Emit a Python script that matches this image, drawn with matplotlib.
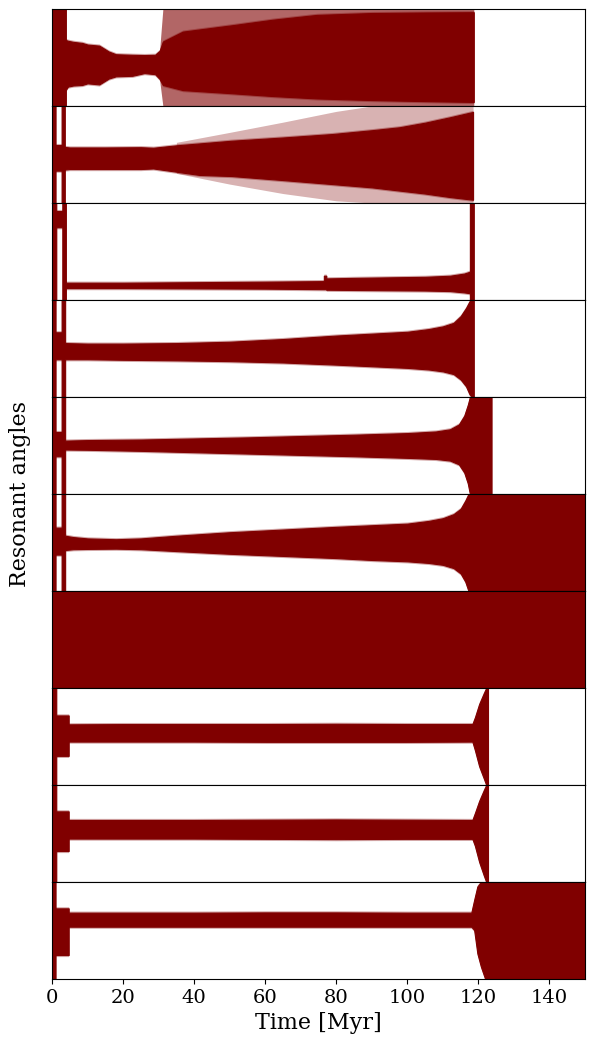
import matplotlib
matplotlib.use("Agg")
import matplotlib.pyplot as plt
import numpy as np

plt.rcParams['font.family'] = ['DejaVu Serif']

COLOR = '#800000'
x_ticks = [0, 20, 40, 60, 80, 100, 120, 140]
x_label = 'Time [Myr]'
y_label = 'Resonant angles'

# ---- envelopes of the dense point clouds (angle in degrees, 0..360) ----
p1_t  = [0, 3.9, 3.9, 4.5, 6, 8.5, 10, 13.3, 16, 18, 22.6, 26, 29, 30.3, 31.2, 36.8, 50.9, 62, 74.5, 90, 105, 118.7]
p1_hi = [360, 360, 245, 242, 238, 234, 228, 224, 202, 192, 190, 189, 190, 205, 239, 276, 300, 320, 338, 345, 347, 348]
p1_lo = [0, 0, 60, 72, 76, 78, 84, 80, 102, 110, 112, 122, 118, 100, 78, 59, 47, 37, 28, 22, 18, 15]
p1s_t  = [30.3, 31.2, 118.7]
p1s_hi = [210, 360, 360]
p1s_lo = [95, 0, 0]

p2_t  = [0, 1.0, 1.0, 2.7, 2.7, 3.6, 3.6, 5, 15, 25, 28.5, 35, 41.5, 50.5, 65, 79, 90, 97.8, 105, 112, 118.5]
p2_hi = [360, 360, 215, 215, 360, 360, 208, 206, 206, 207, 205, 214, 221, 231, 243, 256, 270, 281, 298, 318, 338]
p2_lo = [0, 0, 120, 120, 0, 0, 124, 126, 126, 126, 128, 116, 104, 100, 85, 70, 58, 46, 35, 22, 12]
p2s_t  = [35, 50, 65, 80, 90, 118.5]
p2s_hi = [225, 262, 300, 340, 360, 360]
p2s_lo = [110, 70, 35, 8, 0, 0]

p3_t  = [0, 1.2, 1.2, 2.9, 2.9, 3.9, 3.9, 20, 40, 60, 76.5, 76.5, 77.2, 77.2, 85, 95, 105, 112, 116, 117.6, 117.6, 118.7]
p3_hi = [360, 360, 330, 330, 360, 360, 64, 64, 66, 68, 70, 90, 90, 80, 82, 84, 86, 90, 98, 105, 360, 360]
p3_lo = [0, 0, 270, 270, 0, 0, 44, 44, 43, 42, 40, 40, 40, 38, 37, 36, 35, 33, 28, 25, 0, 0]

p4_t  = [0, 1.0, 1.0, 2.7, 2.7, 3.7, 3.7, 10, 20, 35, 50, 65, 80, 90, 100, 106, 110, 113, 115, 116.5, 117.5, 118.2, 118.7]
p4_hi = [360, 360, 240, 240, 360, 360, 200, 198, 198, 200, 205, 215, 228, 235, 242, 252, 262, 275, 300, 330, 355, 360, 360]
p4_lo = [0, 0, 140, 140, 0, 0, 140, 140, 138, 136, 133, 128, 120, 114, 108, 102, 95, 85, 65, 40, 10, 0, 0]

p5_t  = [0, 1.0, 1.0, 2.7, 2.7, 3.7, 3.7, 10, 25, 40, 55, 70, 85, 100, 108, 112, 114.5, 116, 117, 117.6, 117.6, 123.7]
p5_hi = [360, 360, 230, 230, 360, 360, 198, 200, 202, 206, 210, 215, 220, 226, 232, 240, 258, 290, 330, 360, 360, 360]
p5_lo = [0, 0, 140, 140, 0, 0, 165, 164, 160, 155, 150, 145, 140, 134, 130, 124, 110, 80, 40, 0, 0, 0]

p6_t  = [0, 1.0, 1.0, 2.7, 2.7, 3.7, 3.7, 6, 10, 18, 25, 35, 50, 65, 80, 90, 100, 106, 110, 113, 115, 116.3, 117.2, 150]
p6_hi = [360, 360, 235, 235, 360, 360, 205, 200, 195, 192, 195, 205, 218, 228, 238, 244, 250, 260, 270, 285, 305, 335, 360, 360]
p6_lo = [0, 0, 135, 135, 0, 0, 152, 155, 156, 157, 155, 148, 138, 130, 122, 115, 110, 104, 97, 85, 65, 35, 0, 0]

p7_t  = [0, 150]
p7_hi = [360, 360]
p7_lo = [0, 0]

p8_t  = [0, 1.2, 1.2, 4.7, 4.7, 20, 40, 60, 80, 100, 118.3, 119, 120.2, 121.5, 122.2, 122.7]
p8_hi = [360, 360, 258, 258, 225, 226, 226, 226, 227, 226, 226, 250, 300, 340, 360, 360]
p8_lo = [0, 0, 108, 108, 161, 161, 161, 160, 160, 160, 161, 130, 70, 25, 0, 0]

p9_t  = [0, 1.2, 1.2, 4.7, 4.7, 20, 40, 60, 80, 100, 118.3, 119, 120.2, 121.5, 122.2, 122.7]
p9_hi = [360, 360, 262, 262, 230, 230, 230, 231, 232, 231, 230, 255, 300, 340, 360, 360]
p9_lo = [0, 0, 115, 115, 161, 161, 161, 160, 159, 160, 160, 135, 75, 25, 0, 0]

p10_t  = [0, 1.0, 1.0, 4.7, 4.7, 20, 40, 60, 80, 100, 118, 118.8, 119.7, 120.7, 121.9, 150]
p10_hi = [360, 360, 262, 262, 246, 246, 246, 247, 247, 246, 246, 293, 343, 360, 360, 360]
p10_lo = [0, 0, 89, 89, 194, 194, 194, 194, 194, 194, 194, 182, 95, 46, 0, 0]

dense = [(p1_t, p1_lo, p1_hi), (p2_t, p2_lo, p2_hi), (p3_t, p3_lo, p3_hi),
         (p4_t, p4_lo, p4_hi), (p5_t, p5_lo, p5_hi), (p6_t, p6_lo, p6_hi),
         (p7_t, p7_lo, p7_hi), (p8_t, p8_lo, p8_hi), (p9_t, p9_lo, p9_hi),
         (p10_t, p10_lo, p10_hi)]
sparse = {0: (p1s_t, p1s_lo, p1s_hi, 0.6), 1: (p2s_t, p2s_lo, p2s_hi, 0.3)}

fig = plt.figure(figsize=(5.95, 10.44), dpi=100)
axes = fig.subplots(len(dense), 1, sharex=True, gridspec_kw=dict(hspace=0))
fig.subplots_adjust(left=0.0874, right=0.9832, top=0.9914, bottom=0.0623)

HALO = 6  # soft, speckled-looking rim around each dense cloud (degrees)

for i, ax in enumerate(axes):
    if i in sparse:
        st, slo, shi, a = sparse[i]
        ax.fill_between(st, slo, shi, color=COLOR, alpha=a, linewidth=0)
    t, lo, hi = dense[i]
    lo_a, hi_a = np.asarray(lo, float), np.asarray(hi, float)
    ax.fill_between(t, lo_a - HALO, hi_a + HALO, color=COLOR, alpha=0.35, linewidth=0)
    ax.fill_between(t, lo_a, hi_a, facecolor=COLOR, edgecolor=COLOR, linewidth=0.8)
    ax.set_xlim(0, 150)
    ax.set_ylim(0, 360)
    ax.set_yticks([])
    ax.tick_params(axis='x', which='both', bottom=(i == len(dense) - 1),
                   labelbottom=(i == len(dense) - 1), labelsize=14)

axes[-1].set_xticks(x_ticks)
axes[-1].set_xlabel(x_label, fontsize=16)
fig.text(0.034, 0.527, y_label, rotation=90, fontsize=16, ha='center', va='center')

fig.savefig('out.png', dpi=100)
